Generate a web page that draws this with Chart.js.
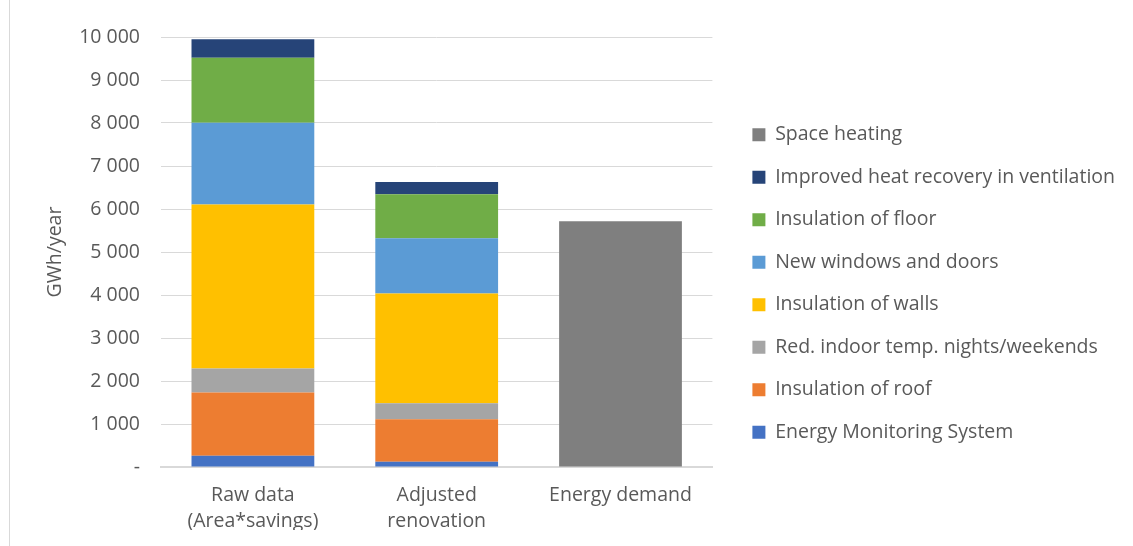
<!DOCTYPE html>
<html>
<head>
<meta charset="utf-8">
<script src="https://cdn.jsdelivr.net/npm/chart.js@4"></script>
<style>
html, body { margin: 0; padding: 0; background: #fff; }
#wrap { width: 1133px; height: 546px; position: relative; }
</style>
</head>
<body>
<div id="wrap"><canvas id="chart"></canvas></div>
<script>
// categories on the x axis
const categories = [['Raw data', '(Area*savings)'], ['Adjusted', 'renovation'], 'Energy demand'];

// GWh/year
const monitoring  = [263, 123, null];
const roof        = [1468, 986, null];
const indoorTemp  = [559, 373, null];
const walls       = [3813, 2555, null];
const windows     = [1901, 1281, null];
const floor       = [1514, 1025, null];
const ventilation = [428, 286, null];
const spaceHeat   = [null, null, 5714];

const yTicks = [0, 1000, 2000, 3000, 4000, 5000, 6000, 7000, 8000, 9000, 10000];

Chart.defaults.font.family = "'Open Sans', sans-serif";
Chart.defaults.color = '#595959';

function fmt(v) {
    if (v === 0) return '-';
    return String(v).replace(/\B(?=(\d{3})+(?!\d))/g, ' ');
}

// thin frame line on the left and a small nudge of the legend to the right
const frame = {
    id: 'frame',
    afterLayout(chart) {
        if (chart.legend) { chart.legend.left += 17; chart.legend.right += 17; }
    },
    beforeDraw(chart) {
        const ctx = chart.ctx;
        ctx.save();
        ctx.strokeStyle = '#d9d9d9';
        ctx.lineWidth = 1;
        ctx.beginPath();
        ctx.moveTo(9.5, 0);
        ctx.lineTo(9.5, chart.height);
        ctx.stroke();
        ctx.restore();
    }
};

function ds(label, data, color) {
    return { label: label, data: data, backgroundColor: color, borderWidth: 0,
             categoryPercentage: 0.668, barPercentage: 1 };
}

new Chart(document.getElementById('chart'), {
    type: 'bar',
    data: {
        labels: categories,
        datasets: [
            ds('Energy Monitoring System', monitoring, '#4472C4'),
            ds('Insulation of roof', roof, '#ED7D31'),
            ds('Red. indoor temp. nights/weekends', indoorTemp, '#A5A5A5'),
            ds('Insulation of walls', walls, '#FFC000'),
            ds('New windows and doors', windows, '#5B9BD5'),
            ds('Insulation of floor', floor, '#70AD47'),
            ds('Improved heat recovery in ventilation', ventilation, '#264478'),
            ds('Space heating', spaceHeat, '#7F7F7F')
        ]
    },
    options: {
        responsive: true,
        maintainAspectRatio: false,
        animation: false,
        layout: { padding: { left: 44, top: 37, bottom: 16, right: 25 } },
        plugins: {
            legend: {
                position: 'right',
                reverse: true,
                maxWidth: 440,
                labels: { boxWidth: 13, boxHeight: 13, padding: 23, color: '#595959', font: { size: 19.5 } }
            },
            tooltip: { enabled: false }
        },
        scales: {
            x: {
                stacked: true,
                afterFit(scale) { scale.height = 63; },
                grid: { display: false, drawTicks: false },
                border: { color: '#d9d9d9', width: 2 },
                ticks: { color: '#595959', font: { size: 19.5, lineHeight: 1.36 }, padding: 15, maxRotation: 0 }
            },
            y: {
                stacked: true,
                min: 0,
                max: 10000,
                afterBuildTicks(axis) { axis.ticks = yTicks.map(v => ({ value: v })); },
                afterFit(scale) { scale.width = 117; },
                grid: { color: '#d9d9d9', lineWidth: 1, drawTicks: false, tickLength: 0 },
                border: { display: false },
                ticks: { color: '#595959', font: { size: 19.5 }, padding: 21, callback: v => fmt(v) },
                title: { display: true, text: 'GWh/year', color: '#595959', font: { size: 19.5 }, padding: { top: 0, bottom: 8 } }
            }
        }
    },
    plugins: [frame]
});
</script>
</body>
</html>
